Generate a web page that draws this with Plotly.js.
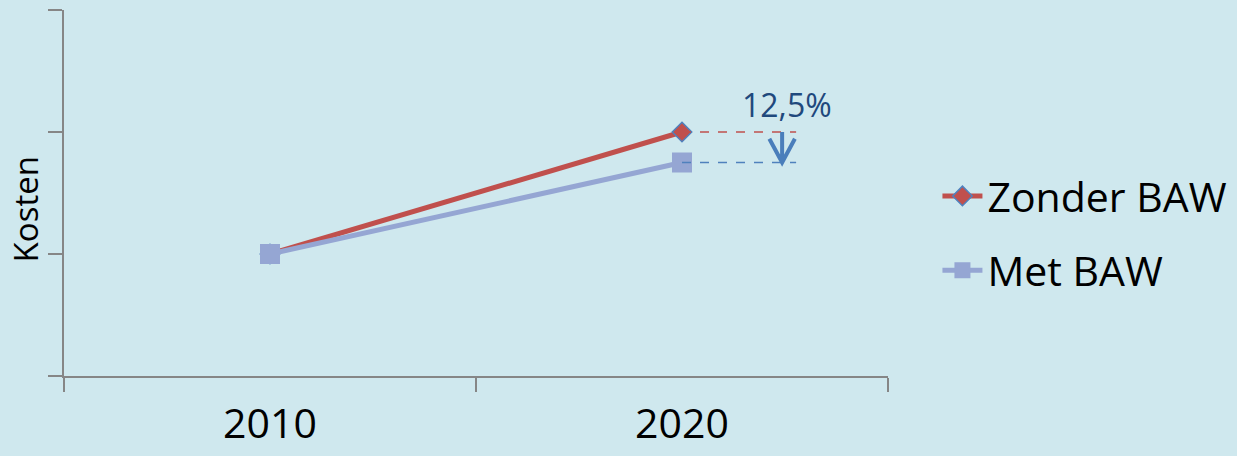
<!DOCTYPE html>
<html>
<head>
<meta charset="utf-8">
<script src="https://cdn.plot.ly/plotly-3.0.1.min.js"></script>
<style>
  html, body { margin: 0; padding: 0; background: #cfe8ee; }
  #chart { width: 1237px; height: 456px; }
</style>
</head>
<body>
<div id="chart"></div>
<script>
// Data
const years = ['2010', '2020'];
const zonderBAW = [1, 2];
const metBAW = [1, 1.75];
const seriesNames = ['Zonder BAW', 'Met BAW'];
const reductionLabel = '12,5%';
const yTitle = 'Kosten';

const FONT = '"Open Sans", "Noto Sans", sans-serif';
const RED = '#c0504d';
const BLUE = '#4f81bd';
const LIGHTBLUE = '#95a6d3';
const AXIS = '#868686';

const lastIdx = years.length - 1;
const xEnd = lastIdx + 0.277;     // end of dashed guide lines
const xArrow = lastIdx + 0.243;   // arrow position
const yTop = zonderBAW[lastIdx];
const yBot = metBAW[lastIdx];

const traces = [
  {
    x: years, y: zonderBAW, name: seriesNames[0], type: 'scatter', mode: 'lines+markers',
    legendgroup: 'a',
    line: { color: RED, width: 5 },
    marker: { symbol: 'diamond', size: 15, color: RED, line: { color: BLUE, width: 1.5 } }
  },
  {
    x: years, y: metBAW, name: seriesNames[1], type: 'scatter', mode: 'lines+markers',
    legendgroup: 'b',
    line: { color: LIGHTBLUE, width: 5 },
    marker: { symbol: 'square', size: 20, color: LIGHTBLUE }
  }
];

const layout = {
  width: 1237, height: 456,
  margin: { l: 64, r: 349, t: 10, b: 80, autoexpand: false },
  paper_bgcolor: '#cfe8ee',
  plot_bgcolor: 'rgba(0,0,0,0)',
  font: { family: FONT, color: '#000' },
  showlegend: true,
  legend: {
    x: 1.060, y: 0.39, xanchor: 'left', yanchor: 'middle',
    font: { family: FONT, size: 41, color: '#000' },
    bgcolor: 'rgba(0,0,0,0)', tracegroupgap: 18, traceorder: 'grouped',
    itemwidth: 40
  },
  xaxis: {
    type: 'category', range: [-0.5, 1.5], tickson: 'boundaries',
    showline: true, linecolor: AXIS, linewidth: 2,
    ticks: 'outside', ticklen: 14, tickcolor: AXIS, tickwidth: 2,
    showgrid: false, zeroline: false,
    tickfont: { family: FONT, size: 41, color: '#000' },
    ticklabelstandoff: 11
  },
  yaxis: {
    range: [0, 3], dtick: 1, tick0: 0,
    showline: true, linecolor: AXIS, linewidth: 2,
    ticks: 'outside', ticklen: 14, tickcolor: AXIS, tickwidth: 2,
    showticklabels: false, showgrid: false, zeroline: false
  },
  shapes: [
    { type: 'line', xref: 'x', yref: 'y', x0: lastIdx, x1: xEnd, y0: yTop, y1: yTop,
      line: { color: RED, width: 1.5, dash: 'dash' } },
    { type: 'line', xref: 'x', yref: 'y', x0: lastIdx, x1: xEnd, y0: yBot, y1: yBot,
      line: { color: BLUE, width: 1.5, dash: 'dash' } },
    { type: 'path', xref: 'x', yref: 'y',
      path: 'M' + xArrow + ',' + yTop + ' L' + xArrow + ',' + yBot +
            ' M' + (xArrow - 0.031) + ',' + (yTop - 0.055) + ' L' + xArrow + ',' + yBot +
            ' L' + (xArrow + 0.031) + ',' + (yTop - 0.055),
      line: { color: '#4a7ebb', width: 4 } }
  ],
  annotations: [
    { xref: 'x', yref: 'y', x: xArrow + 0.012, y: yTop, yanchor: 'bottom', yshift: 4,
      text: reductionLabel, showarrow: false,
      font: { family: FONT, size: 32, color: '#1f497d' } },
    { xref: 'paper', yref: 'paper', x: -0.047, y: 0.456, xanchor: 'center', yanchor: 'middle',
      text: yTitle, showarrow: false, textangle: -90,
      font: { family: FONT, size: 33, color: '#000' } }
  ]
};

Plotly.newPlot('chart', traces, layout, { displayModeBar: false, staticPlot: true });
</script>
</body>
</html>
